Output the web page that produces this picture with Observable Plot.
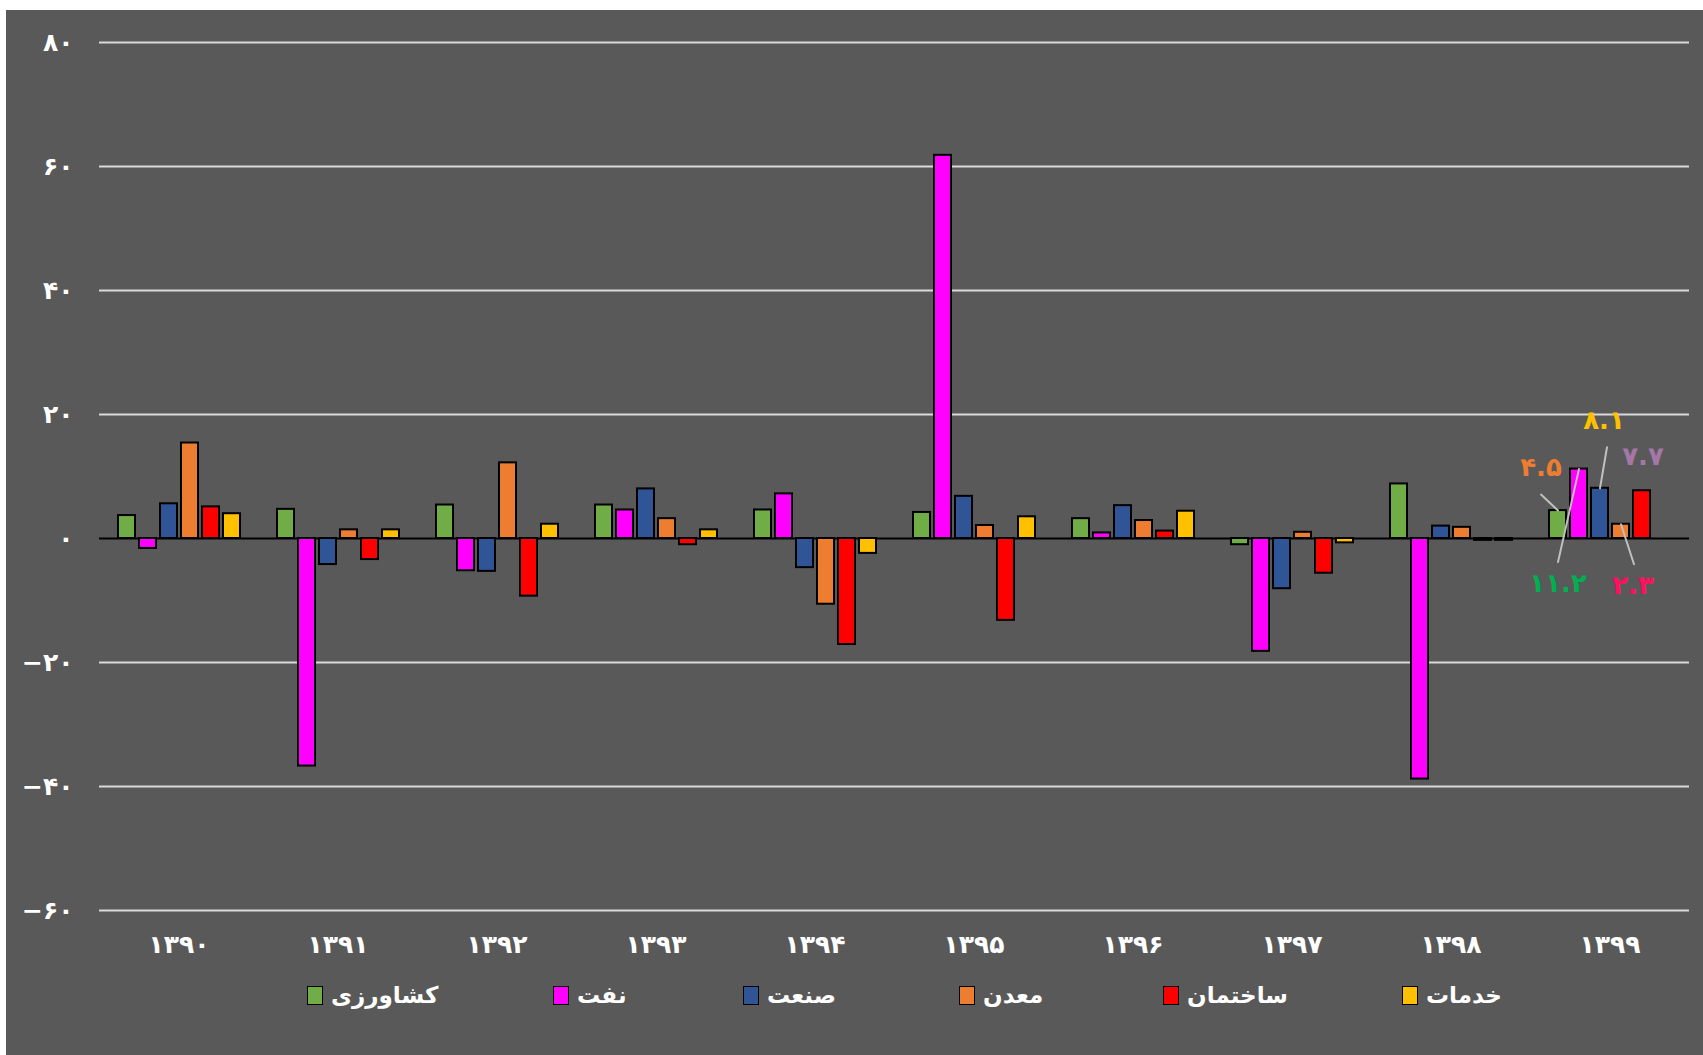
<!DOCTYPE html>
<html>
<head>
<meta charset="utf-8">
<script src="https://cdn.jsdelivr.net/npm/d3@7"></script>
<script src="https://cdn.jsdelivr.net/npm/@observablehq/plot@0.6"></script>
<style>
  html, body { margin: 0; padding: 0; background: #ffffff; }
  #frame { position: absolute; left: 6px; top: 10px; width: 1697px; height: 1045px; background: #595959; overflow: hidden; }
  #chart svg { display: block; }
  .leg { position: absolute; top: 972px; display: flex; align-items: center; gap: 8px;
         font-family: "DejaVu Sans", sans-serif; font-weight: bold; font-size: 23px; color: #ffffff; }
  .sw { width: 16px; height: 19px; border: 1.5px solid #000; box-sizing: border-box; }
</style>
</head>
<body>
<div id="frame"><div id="chart"></div></div>
<script>
// ---- data ----
const years = ["۱۳۹۰","۱۳۹۱","۱۳۹۲","۱۳۹۳","۱۳۹۴","۱۳۹۵","۱۳۹۶","۱۳۹۷","۱۳۹۸","۱۳۹۹"];
const seriesNames = ["کشاورزی","نفت","صنعت","معدن","ساختمان","خدمات"];
const seriesColors = ["#70ad47","#ff00ff","#2f5597","#ed7d31","#ff0000","#ffc000"];
const agriculture  = [3.7, 4.7, 5.4, 5.4, 4.6, 4.2, 3.2, -1.0, 8.8, 4.5];
const oil          = [-1.6, -36.7, -5.2, 4.6, 7.2, 61.8, 0.9, -18.2, -38.8, 11.2];
const industry     = [5.6, -4.2, -5.3, 8.0, -4.7, 6.8, 5.3, -8.1, 2.0, 8.1];
const mining       = [15.4, 1.4, 12.2, 3.2, -10.6, 2.1, 2.9, 1.0, 1.8, 2.3];
const construction = [5.1, -3.4, -9.3, -1.0, -17.1, -13.2, 1.2, -5.6, -0.3, 7.7];
const services     = [4.0, 1.4, 2.3, 1.4, -2.4, 3.5, 4.4, -0.7, -0.3, null];
const yTicks = [-60, -40, -20, 0, 20, 40, 60, 80];

// annotated bars in the last year (label colour, label offset, leader-line end offset)
const annotYear = "۱۳۹۹";
const annotations = [
  {series: "کشاورزی", color: "#ed7d31", dx: -17, dy: -43, lx: -17, ly: -16},
  {series: "نفت",     color: "#00b050", dx: -21, dy: 115, lx: -21, ly: 93},
  {series: "صنعت",    color: "#ffc000", dx: 4,   dy: -68, lx: 7,   ly: -41},
  {series: "معدن",    color: "#ff0f5f", dx: 12,  dy: 61,  lx: 13,  ly: 40},
  {series: "ساختمان", color: "#a477a6", dx: 1,   dy: -34, lx: 0,   ly: 0}
];

// ---- build table ----
const seriesValues = [agriculture, oil, industry, mining, construction, services];
const fa = n => String(n).replace(/-/g, "−").replace(/\d/g, d => "۰۱۲۳۴۵۶۷۸۹"[d]);
const rows = [];
years.forEach((yr, i) => seriesNames.forEach((s, j) => {
  const v = seriesValues[j][i];
  if (v !== null) rows.push({year: yr, series: s, value: v});
}));
const yi = years.indexOf(annotYear);
const ann = annotations.map(a => {
  const v = seriesValues[seriesNames.indexOf(a.series)][yi];
  return {...a, year: annotYear, value: v, text: fa(v),
    len: Math.hypot(a.lx, a.ly), angle: Math.atan2(a.lx, -a.ly) * 180 / Math.PI};
});
const lines = ann.filter(a => a.len > 0);

const ext = -16;
const chart = Plot.plot({
  width: 1697,
  height: 970,
  marginLeft: 92,
  marginRight: 13,
  marginTop: 32,
  marginBottom: 70,
  style: {background: "transparent", color: "#ffffff", fontFamily: "DejaVu Sans, sans-serif", fontWeight: "bold"},
  fx: {domain: years, paddingInner: 0.2, paddingOuter: 0.1, label: null, axis: null},
  x: {domain: seriesNames, paddingInner: 0.2, paddingOuter: 0.1, axis: null},
  y: {domain: [-60, 80], label: null, axis: null},
  color: {domain: seriesNames, range: seriesColors},
  length: {type: "identity"},
  marks: [
    Plot.ruleY(yTicks.filter(d => d !== 0), {stroke: "#d9d9d9", strokeWidth: 2, insetLeft: ext, insetRight: ext}),
    Plot.ruleY([0], {stroke: "#000000", strokeWidth: 2, insetLeft: ext, insetRight: ext}),
    Plot.axisY({ticks: yTicks, tickSize: 0, tickPadding: 42, fontSize: 25, tickFormat: fa, label: null}),
    Plot.axisFx({anchor: "bottom", tickSize: 0, tickPadding: 25, fontSize: 25, label: null}),
    Plot.barY(rows, {fx: "year", x: "series", y: "value", fill: "series", stroke: "#000000", strokeWidth: 2}),
    Plot.vector(lines, {
      fx: "year", x: "series", y: "value", length: "len", rotate: "angle", anchor: "start",
      stroke: "#bfbfbf", strokeWidth: 2,
      shape: {draw(context, l) { context.moveTo(0, 0); context.lineTo(0, -l); }}
    }),
    ...ann.map(a => Plot.text([a], {
      fx: "year", x: "series", y: "value", text: "text", dx: a.dx, dy: a.dy,
      fill: a.color, fontSize: 26, fontWeight: "bold"
    }))
  ]
});
document.getElementById("chart").appendChild(chart);

// legend (HTML below the svg)
const legendLeft = [301, 547, 737, 953, 1157, 1396];
const frame = document.getElementById("frame");
seriesNames.forEach((s, i) => {
  const item = document.createElement("div");
  item.className = "leg";
  item.style.left = legendLeft[i] + "px";
  const sw = document.createElement("div");
  sw.className = "sw";
  sw.style.background = seriesColors[i];
  const tx = document.createElement("span");
  tx.textContent = s;
  item.appendChild(sw);
  item.appendChild(tx);
  frame.appendChild(item);
});
</script>
</body>
</html>
